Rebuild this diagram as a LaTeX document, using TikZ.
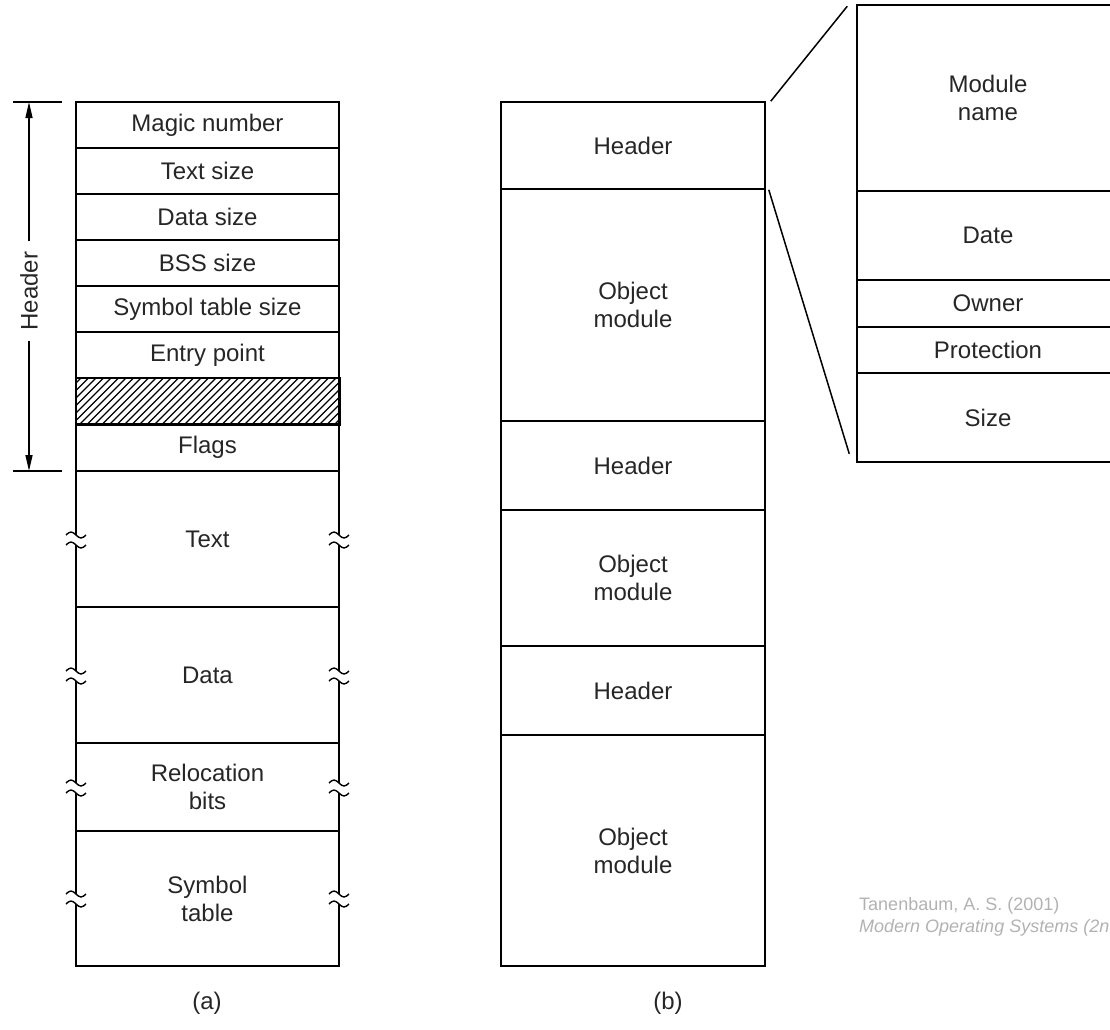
\documentclass[tikz,border=0pt]{standalone}
\usepackage{fontspec}
\setmainfont{Liberation Sans}
\usetikzlibrary{arrows.meta}
\newcommand\brkmark[2]{%
  \fill[white] ({#1-3},{#2-5}) rectangle ({#1+3},{#2+5});
  \draw[brk] ({#1-10},{#2-5}) sin ({#1-5},{#2-8}) cos ({#1},{#2-5}) sin ({#1+5},{#2-2}) cos ({#1+10},{#2-5});
  \draw[brk] ({#1-10},{#2+5}) sin ({#1-5},{#2+2}) cos ({#1},{#2+5}) sin ({#1+5},{#2+8}) cos ({#1+10},{#2+5});
}
\begin{document}
\begin{tikzpicture}[x=1pt,y=-1pt,
  cell/.style={draw, line width=1.5pt, inner sep=0pt, align=center,
    font=\fontsize{24}{28}\selectfont, text=black!85},
  lcell/.style={cell, minimum width=263pt},
  rcell/.style={cell, minimum width=264pt},
  dcell/.style={cell, minimum width=262pt},
  brk/.style={line width=1.4pt},
  thin/.style={line width=1.5pt},
  cite/.style={text=black!30, font=\fontsize{18}{20}\selectfont, anchor=west, inner sep=0pt}
]
\useasboundingbox (0,0) rectangle (1110,1029);

% ---- (a) ----
\node[lcell, minimum height=46pt] (mag) at (207.5,125) {Magic number};
\node[lcell, minimum height=46pt] (ts) at (207.5,171) {Text size};
\node[lcell, minimum height=46pt] (ds) at (207.5,217) {Data size};
\node[lcell, minimum height=46pt] (bss) at (207.5,263) {BSS size};
\node[lcell, minimum height=46pt] (sts) at (207.5,309) {Symbol table size};
\node[lcell, minimum height=46pt] (ep) at (207.5,355) {Entry point};
\node[lcell, minimum height=46pt] (hat) at (207.5,401) {};
\node[lcell, minimum height=47pt] (fl) at (207.5,447.5) {Flags};
\node[lcell, minimum height=136pt] (txt) at (207.5,539) {Text};
\node[lcell, minimum height=136pt] (dat) at (207.5,675) {Data};
\node[lcell, minimum height=88pt] (rel) at (207.5,787) {Relocation\\bits};
\node[lcell, minimum height=135pt] (sym) at (207.5,898.5) {Symbol\\table};

\begin{scope}
  \clip (hat.south west) rectangle (hat.north east);
  \foreach \i in {20,27.5,...,360} \draw[line width=1.3pt] (\i,424) -- ({\i+46},378);
\end{scope}
\draw[thin] (hat.south west) rectangle (hat.north east);

\foreach \yc in {540,676,788,899} {
  \brkmark{76}{\yc}
  \brkmark{339}{\yc}
}

% header dimension
\coordinate (htop) at (29,102);
\coordinate (hbot) at (29,471);
\draw[thin] (13,102) -- (62,102);
\draw[thin] (13,471) -- (62,471);
\node[rotate=90, inner xsep=10pt, inner ysep=0pt, font=\fontsize{24}{28}\selectfont, text=black!85] (hlbl) at (29,291) {Header};
\draw[thin, -{Triangle[length=16pt,width=7pt]}] (hlbl.east) -- (htop);
\draw[thin, -{Triangle[length=16pt,width=7pt]}] (hlbl.west) -- (hbot);

\node[font=\fontsize{24}{28}\selectfont, text=black!85] (la) at (207,1003) {(a)};

% ---- (b) ----
\node[rcell, minimum height=87pt] (h1) at (633,145.5) {Header};
\node[rcell, minimum height=232pt] (o1) at (633,305) {Object\\module};
\node[rcell, minimum height=89pt] (h2) at (633,465.5) {Header};
\node[rcell, minimum height=136pt] (o2) at (633,578) {Object\\module};
\node[rcell, minimum height=89pt] (h3) at (633,690.5) {Header};
\node[rcell, minimum height=231pt] (o3) at (633,850.5) {Object\\module};

\node[font=\fontsize{24}{28}\selectfont, text=black!85] (lb) at (668,1003) {(b)};

% detail
\node[dcell, minimum height=186pt] (mn) at (988,98) {Module\\name};
\node[dcell, minimum height=89pt] (dt) at (988,235.5) {Date};
\node[dcell, minimum height=47pt] (own) at (988,303.5) {Owner};
\node[dcell, minimum height=46pt] (prot) at (988,350) {Protection};
\node[dcell, minimum height=89pt] (sz) at (988,417.5) {Size};

\draw[thin] ([xshift=5pt]h1.north east) -- ([xshift=-9pt,yshift=-2pt]mn.north west);
\draw[thin] ([xshift=3pt]h1.south east) -- ([xshift=-7pt,yshift=9pt]sz.south west);

% citation
\node[cite] (c1) at (859,906) {Tanenbaum, A. S. (2001)};
\node[cite, font=\fontsize{18}{20}\selectfont\itshape] (c2) at (859,928) {Modern Operating Systems (2n};
\end{tikzpicture}
\end{document}
